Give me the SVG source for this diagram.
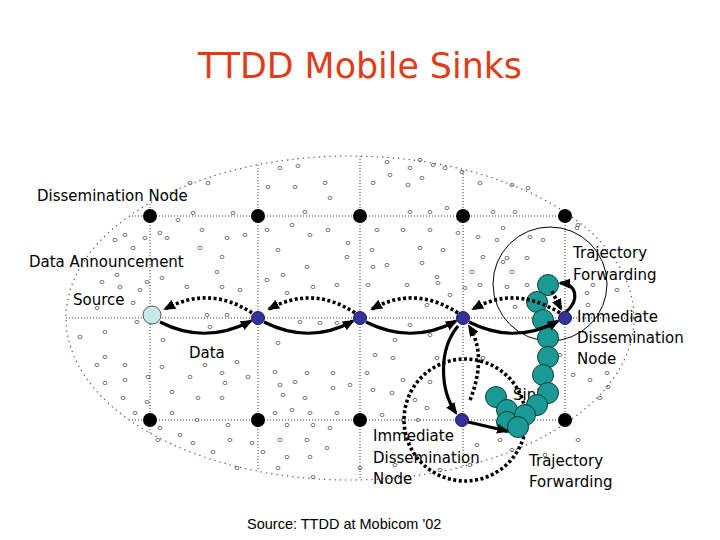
<svg xmlns="http://www.w3.org/2000/svg" xmlns:xlink="http://www.w3.org/1999/xlink" width="720" height="540" viewBox="0 0 720 540">
<style>
.t{font-family:"DejaVu Sans","Noto Sans",sans-serif;font-size:15px;fill:#000}
.grid{stroke:#333;stroke-width:1;stroke-dasharray:1 2;fill:none}
.sol{stroke:#000;stroke-width:3.2;fill:none}
.dot{stroke:#000;stroke-width:3.6;stroke-dasharray:3 2.5;fill:none}
.blk{fill:#000}
.blu{fill:#33339a;stroke:#1a1a60;stroke-width:1}
.tl{fill:#1a9a94;stroke:#0b3c3a;stroke-width:1}
.sc{fill:none;stroke:#555;stroke-width:0.8}
</style>
<defs>
<clipPath id="ec"><ellipse cx="350" cy="318" rx="284" ry="162"/></clipPath>
<ellipse id="o" class="sc" cx="0" cy="0" rx="2" ry="1.6"/>
<marker id="ah" markerWidth="12" markerHeight="10" refX="10" refY="5" orient="auto" markerUnits="userSpaceOnUse"><path d="M0 0L12 5L0 10z" fill="#000"/></marker>
</defs>
<rect width="720" height="540" fill="#fff"/>
<text x="360" y="78" text-anchor="middle" font-family="DejaVu Sans,sans-serif" font-size="35" fill="#e03c1a" textLength="324" lengthAdjust="spacingAndGlyphs">TTDD Mobile Sinks</text>
<g id="field">
<ellipse cx="350" cy="318" rx="284" ry="162" fill="none" stroke="#555" stroke-width="1.2" stroke-dasharray="1.3 4"/>
<g clip-path="url(#ec)" class="grid">
<path d="M60 216H640M60 318H640M60 420H640M150 150V490M258 150V490M360 150V490M463 150V490M565 150V490"/>
</g>
<g id="scatter">
<use href="#o" x="190" y="183"/><use href="#o" x="208" y="183"/><use href="#o" x="280" y="168"/><use href="#o" x="298" y="166"/><use href="#o" x="268" y="187"/><use href="#o" x="295" y="187"/><use href="#o" x="325" y="183"/><use href="#o" x="330" y="198"/><use href="#o" x="193" y="213"/><use href="#o" x="233" y="213"/><use href="#o" x="305" y="212"/><use href="#o" x="178" y="220"/><use href="#o" x="202" y="230"/><use href="#o" x="227" y="238"/><use href="#o" x="245" y="235"/><use href="#o" x="267" y="230"/><use href="#o" x="292" y="225"/><use href="#o" x="310" y="235"/><use href="#o" x="328" y="230"/><use href="#o" x="115" y="240"/><use href="#o" x="125" y="235"/><use href="#o" x="145" y="238"/><use href="#o" x="160" y="233"/><use href="#o" x="167" y="238"/><use href="#o" x="133" y="248"/><use href="#o" x="200" y="248"/><use href="#o" x="222" y="257"/><use href="#o" x="278" y="250"/><use href="#o" x="307" y="267"/><use href="#o" x="348" y="243"/><use href="#o" x="347" y="257"/><use href="#o" x="102" y="282"/><use href="#o" x="117" y="275"/><use href="#o" x="120" y="287"/><use href="#o" x="140" y="290"/><use href="#o" x="147" y="282"/><use href="#o" x="162" y="278"/><use href="#o" x="187" y="287"/><use href="#o" x="217" y="272"/><use href="#o" x="222" y="287"/><use href="#o" x="240" y="290"/><use href="#o" x="267" y="280"/><use href="#o" x="283" y="275"/><use href="#o" x="287" y="293"/><use href="#o" x="313" y="287"/><use href="#o" x="337" y="285"/><use href="#o" x="133" y="303"/><use href="#o" x="97" y="308"/><use href="#o" x="137" y="322"/><use href="#o" x="207" y="315"/><use href="#o" x="227" y="315"/><use href="#o" x="210" y="327"/><use href="#o" x="300" y="322"/><use href="#o" x="320" y="323"/><use href="#o" x="337" y="323"/><use href="#o" x="80" y="337"/><use href="#o" x="105" y="332"/><use href="#o" x="163" y="340"/><use href="#o" x="278" y="343"/>
<use href="#o" x="387" y="162"/><use href="#o" x="410" y="168"/><use href="#o" x="420" y="160"/><use href="#o" x="433" y="165"/><use href="#o" x="445" y="168"/><use href="#o" x="462" y="172"/><use href="#o" x="480" y="183"/><use href="#o" x="512" y="185"/><use href="#o" x="528" y="188"/><use href="#o" x="390" y="175"/><use href="#o" x="422" y="178"/><use href="#o" x="373" y="183"/><use href="#o" x="408" y="185"/><use href="#o" x="410" y="212"/><use href="#o" x="430" y="212"/><use href="#o" x="447" y="208"/><use href="#o" x="493" y="212"/><use href="#o" x="515" y="212"/><use href="#o" x="377" y="230"/><use href="#o" x="403" y="230"/><use href="#o" x="430" y="230"/><use href="#o" x="458" y="233"/><use href="#o" x="478" y="237"/><use href="#o" x="497" y="240"/><use href="#o" x="503" y="228"/><use href="#o" x="530" y="237"/><use href="#o" x="543" y="240"/><use href="#o" x="577" y="228"/><use href="#o" x="372" y="250"/><use href="#o" x="420" y="248"/><use href="#o" x="443" y="250"/><use href="#o" x="483" y="257"/><use href="#o" x="507" y="258"/><use href="#o" x="527" y="258"/><use href="#o" x="373" y="267"/><use href="#o" x="387" y="265"/><use href="#o" x="422" y="263"/><use href="#o" x="437" y="277"/><use href="#o" x="472" y="272"/><use href="#o" x="503" y="262"/><use href="#o" x="512" y="272"/><use href="#o" x="368" y="285"/><use href="#o" x="407" y="285"/><use href="#o" x="438" y="283"/><use href="#o" x="465" y="288"/><use href="#o" x="480" y="285"/><use href="#o" x="507" y="287"/><use href="#o" x="527" y="285"/><use href="#o" x="450" y="295"/><use href="#o" x="427" y="305"/><use href="#o" x="515" y="307"/><use href="#o" x="410" y="325"/><use href="#o" x="430" y="335"/><use href="#o" x="395" y="340"/>
<use href="#o" x="97" y="365"/><use href="#o" x="105" y="357"/><use href="#o" x="125" y="365"/><use href="#o" x="148" y="377"/><use href="#o" x="162" y="367"/><use href="#o" x="105" y="383"/><use href="#o" x="125" y="380"/><use href="#o" x="190" y="377"/><use href="#o" x="222" y="373"/><use href="#o" x="248" y="377"/><use href="#o" x="237" y="362"/><use href="#o" x="205" y="365"/><use href="#o" x="225" y="383"/><use href="#o" x="172" y="392"/><use href="#o" x="198" y="398"/><use href="#o" x="222" y="398"/><use href="#o" x="147" y="402"/><use href="#o" x="123" y="398"/><use href="#o" x="135" y="413"/><use href="#o" x="172" y="413"/><use href="#o" x="197" y="420"/><use href="#o" x="228" y="425"/><use href="#o" x="160" y="428"/><use href="#o" x="180" y="435"/><use href="#o" x="158" y="440"/><use href="#o" x="193" y="443"/><use href="#o" x="230" y="440"/><use href="#o" x="252" y="443"/><use href="#o" x="213" y="452"/><use href="#o" x="237" y="468"/><use href="#o" x="275" y="372"/><use href="#o" x="307" y="373"/><use href="#o" x="333" y="373"/><use href="#o" x="280" y="385"/><use href="#o" x="295" y="382"/><use href="#o" x="333" y="388"/><use href="#o" x="350" y="385"/><use href="#o" x="283" y="395"/><use href="#o" x="305" y="398"/><use href="#o" x="275" y="413"/><use href="#o" x="292" y="410"/><use href="#o" x="310" y="413"/><use href="#o" x="337" y="413"/><use href="#o" x="287" y="425"/><use href="#o" x="313" y="425"/><use href="#o" x="330" y="428"/><use href="#o" x="280" y="440"/><use href="#o" x="307" y="440"/><use href="#o" x="327" y="448"/><use href="#o" x="287" y="457"/><use href="#o" x="310" y="457"/><use href="#o" x="278" y="468"/><use href="#o" x="313" y="477"/><use href="#o" x="263" y="452"/>
<use href="#o" x="367" y="373"/><use href="#o" x="375" y="355"/><use href="#o" x="393" y="358"/><use href="#o" x="403" y="380"/><use href="#o" x="373" y="390"/><use href="#o" x="392" y="393"/><use href="#o" x="430" y="382"/><use href="#o" x="437" y="358"/><use href="#o" x="415" y="400"/><use href="#o" x="427" y="408"/><use href="#o" x="483" y="358"/><use href="#o" x="560" y="355"/><use href="#o" x="573" y="375"/><use href="#o" x="590" y="380"/><use href="#o" x="607" y="373"/><use href="#o" x="600" y="398"/><use href="#o" x="477" y="445"/><use href="#o" x="500" y="440"/><use href="#o" x="512" y="450"/><use href="#o" x="470" y="465"/><use href="#o" x="382" y="415"/><use href="#o" x="403" y="420"/><use href="#o" x="418" y="420"/><use href="#o" x="578" y="225"/><use href="#o" x="593" y="285"/><use href="#o" x="617" y="290"/><use href="#o" x="587" y="293"/><use href="#o" x="588" y="305"/><use href="#o" x="608" y="387"/><use href="#o" x="578" y="440"/><use href="#o" x="545" y="455"/><use href="#o" x="440" y="470"/><use href="#o" x="395" y="465"/><use href="#o" x="360" y="468"/>
</g>
</g>
<circle cx="550" cy="284" r="57" fill="none" stroke="#000" stroke-width="1"/>
<circle cx="465" cy="420" r="61" class="dot"/>
<text class="t" x="513" y="400">Sink</text>
<g id="sink">
<circle class="tl" cx="496" cy="397" r="10.5"/>
<circle class="tl" cx="507" cy="410" r="10.5"/>
<circle class="tl" cx="507" cy="422" r="10.5"/>
<circle class="tl" cx="548" cy="285" r="10.5"/>
<circle class="tl" cx="537" cy="302" r="10.5"/>
<circle class="tl" cx="543" cy="320" r="10.5"/>
<circle class="tl" cx="548" cy="338" r="10.5"/>
<circle class="tl" cx="548" cy="357" r="10.5"/>
<circle class="tl" cx="543" cy="375" r="10.5"/>
<circle class="tl" cx="548" cy="393" r="10.5"/>
<circle class="tl" cx="537" cy="405" r="10.5"/>
<circle class="tl" cx="525" cy="415" r="10.5"/>
<circle class="tl" cx="518" cy="427" r="10.5"/>
</g>
<g id="connectors">
<path class="sol" d="M160 322Q205 345 251 321" marker-end="url(#ah)"/>
<path class="sol" d="M264 322Q310 345 353 321" marker-end="url(#ah)"/>
<path class="sol" d="M366 322Q412 345 456 321" marker-end="url(#ah)"/>
<path class="sol" d="M469 322Q515 345 558 321" marker-end="url(#ah)"/>
<path class="sol" d="M566 312C580 300 577 284 560 283" marker-end="url(#ah)"/>
<path class="sol" d="M458 326C438 350 440 390 456 413" marker-end="url(#ah)"/>
<path class="sol" d="M468 422L507 431" marker-end="url(#ah)"/>
<path class="dot" d="M252 313Q210 285 165 309" marker-end="url(#ah)"/>
<path class="dot" d="M355 313Q313 285 269 309" marker-end="url(#ah)"/>
<path class="dot" d="M458 313Q415 285 372 309" marker-end="url(#ah)"/>
<path class="dot" d="M560 313Q515 285 473 309" marker-end="url(#ah)"/>
<path class="dot" d="M552 291L561 309" marker-end="url(#ah)"/>
<path class="dot" d="M470 400C482 370 481 345 469 326" marker-end="url(#ah)"/>
</g>
<g id="dn-top">
<circle class="blk" cx="150" cy="216" r="7"/><circle class="blk" cx="258" cy="216" r="7"/><circle class="blk" cx="360" cy="216" r="7"/><circle class="blk" cx="463" cy="216" r="7"/><circle class="blk" cx="565" cy="216" r="7"/>
</g>
<g id="dn-bottom">
<circle class="blk" cx="150" cy="420" r="7"/><circle class="blk" cx="258" cy="420" r="7"/><circle class="blk" cx="360" cy="420" r="7"/><circle class="blk" cx="565" cy="420" r="7"/>
</g>
<g id="source"><circle cx="152" cy="315" r="9" fill="#c8e8e8" stroke="#556" stroke-width="1"/></g>
<g id="dn-mid">
<circle class="blu" cx="258" cy="318" r="6.5"/><circle class="blu" cx="360" cy="318" r="6.5"/><circle class="blu" cx="463" cy="318" r="6.5"/><circle class="blu" cx="565" cy="318" r="6.5"/><circle class="blu" cx="462" cy="420" r="6.5"/>
</g>
<g id="labels">
<text class="t" x="37" y="201">Dissemination Node</text>
<text class="t" x="29" y="267">Data Announcement</text>
<text class="t" x="73" y="305">Source</text>
<text class="t" x="189" y="358">Data</text>
<text class="t" x="573" y="258">Trajectory</text>
<text class="t" x="573" y="280">Forwarding</text>
<text class="t" x="577" y="322">Immediate</text>
<text class="t" x="577" y="343">Dissemination</text>
<text class="t" x="577" y="364">Node</text>
<text class="t" x="373" y="441">Immediate</text>
<text class="t" x="373" y="463">Dissemination</text>
<text class="t" x="373" y="484">Node</text>
<text class="t" x="529" y="466">Trajectory</text>
<text class="t" x="529" y="487">Forwarding</text>
</g>
<text x="247" y="529" font-family="Liberation Sans,Arial,sans-serif" font-size="14.5" fill="#000">Source: TTDD at Mobicom '02</text>
</svg>
